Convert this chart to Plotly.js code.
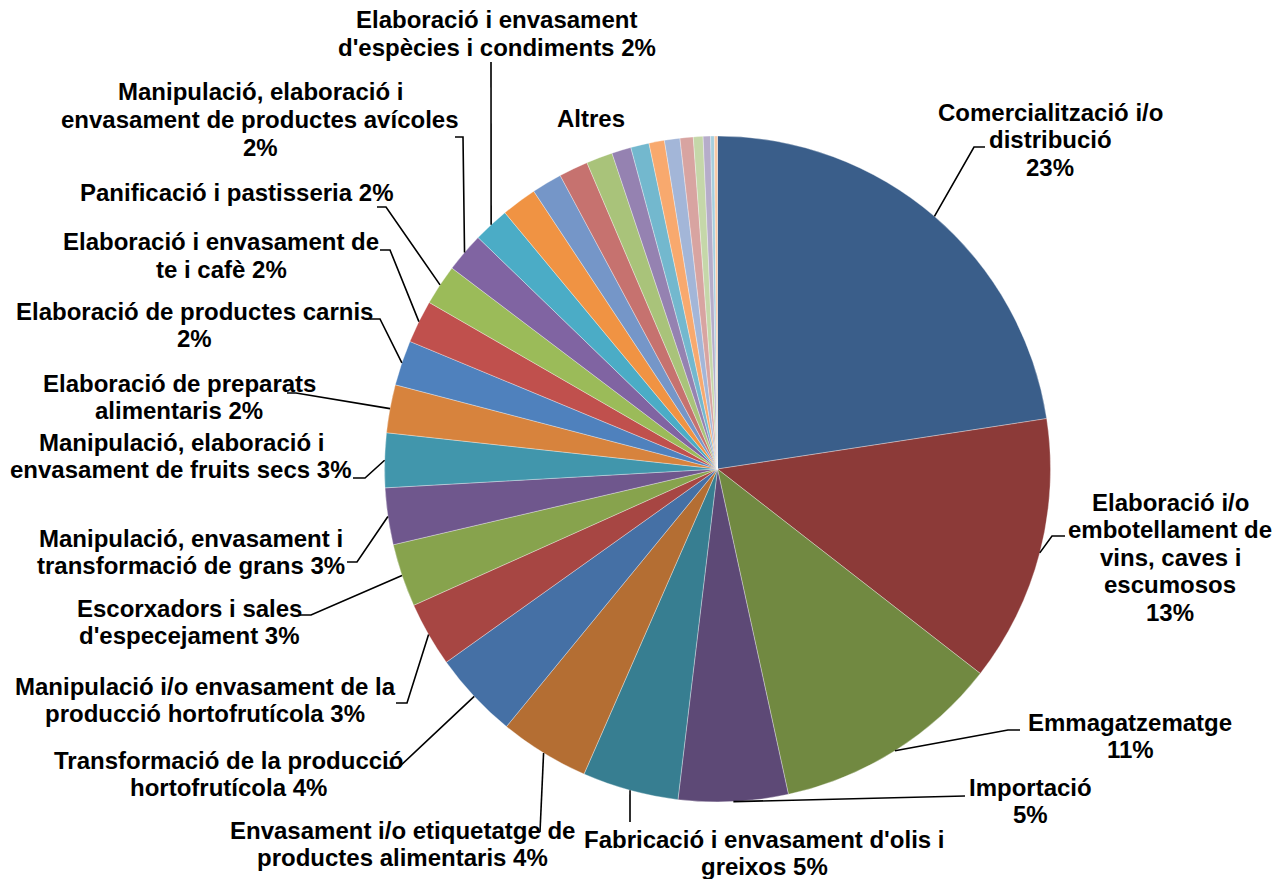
<!DOCTYPE html>
<html>
<head>
<meta charset="utf-8">
<script src="https://cdn.plot.ly/plotly-3.0.1.min.js"></script>
<style>
html,body{margin:0;padding:0;background:#ffffff;}
#chart{width:1273px;height:879px;}
</style>
</head>
<body>
<div id="chart"></div>
<script>
// ---------- DATA ----------
const categories = [
  "Comercialització i/o distribució",
  "Elaboració i/o embotellament de vins, caves i escumosos",
  "Emmagatzematge",
  "Importació",
  "Fabricació i envasament d'olis i greixos",
  "Envasament i/o etiquetatge de productes alimentaris",
  "Transformació de la producció hortofrutícola",
  "Manipulació i/o envasament de la producció hortofrutícola",
  "Escorxadors i sales d'especejament",
  "Manipulació, envasament i transformació de grans",
  "Manipulació, elaboració i envasament de fruits secs",
  "Elaboració de preparats alimentaris",
  "Elaboració de productes carnis",
  "Elaboració i envasament de te i cafè",
  "Panificació i pastisseria",
  "Manipulació, elaboració i envasament de productes avícoles",
  "Elaboració i envasament d'espècies i condiments",
  "Altres 1","Altres 2","Altres 3","Altres 4","Altres 5","Altres 6",
  "Altres 7","Altres 8","Altres 9","Altres 10","Altres 11","Altres 12","Altres 13"
];
const values = [
  22.58, 12.94, 11.06, 5.31, 4.67, 4.36, 4.22, 3.14, 3.06, 2.75,
  2.64, 2.33, 2.19, 2.08, 1.97, 1.92, 1.75,
  1.72, 1.47, 1.42, 1.28, 0.94, 0.89, 0.75, 0.75, 0.64, 0.47, 0.36, 0.18, 0.15
];
// label text lines for the labelled slices ({p} = percentage)
const labelLines = [
  ["Comercialització i/o","distribució","{p}"],
  ["Elaboració i/o","embotellament de","vins, caves i","escumosos","{p}"],
  ["Emmagatzematge","{p}"],
  ["Importació","{p}"],
  ["Fabricació i envasament d'olis i","greixos {p}"],
  ["Envasament i/o etiquetatge de","productes alimentaris {p}"],
  ["Transformació de la producció","hortofrutícola {p}"],
  ["Manipulació i/o envasament de la","producció hortofrutícola {p}"],
  ["Escorxadors i sales","d'especejament {p}"],
  ["Manipulació, envasament i","transformació de grans {p}"],
  ["Manipulació, elaboració i","envasament de fruits secs {p}"],
  ["Elaboració de preparats","alimentaris {p}"],
  ["Elaboració de productes carnis","{p}"],
  ["Elaboració i envasament de","te i cafè {p}"],
  ["Panificació i pastisseria {p}"],
  ["Manipulació, elaboració i","envasament de productes avícoles","{p}"],
  ["Elaboració i envasament","d'espècies i condiments {p}"]
];
const groupLabel = "Altres";

// ---------- STYLE / LAYOUT ----------
const colors = [
  "#3A5E8A","#8C3A38","#718941","#5D4976","#377E91","#B46E33",
  "#4570A5","#A74643","#87A34D","#6F578D","#4196AC","#D7833D",
  "#4F81BD","#C0504D","#9BBB59","#8064A2","#4BACC6","#F09343",
  "#7596C8","#C6726F","#A9C37A","#9582B1","#73B8CE","#F8A96E",
  "#A3B6D8","#D8A4A1","#C5D7A9","#B6ADCA","#A6CFDD","#F9C8A5"
];
const W = 1273, H = 879;
const CX = 717.5, CY = 469, R = 333;
const FONT = {family: "Liberation Sans, Arial, sans-serif", size: 24, color: "#000000"};
const LINE_H = 27.5;
// label placement in page pixels: text centre x, first line centre y, elbow, stub end
const placements = [
  {x:1050, y:112, elbow:[974,147],  stub:[985,147]},
  {x:1170, y:502, elbow:[1052,536], stub:[1065,536]},
  {x:1130, y:722, elbow:[1008,730], stub:[1020,730]},
  {x:1030, y:787, elbow:[965,796],  stub:[965,796]},
  {x:764,  y:839, elbow:[630,822],  stub:[630,822]},
  {x:402,  y:830, elbow:[540,832],  stub:[540,832]},
  {x:228,  y:760, elbow:[398,768],  stub:[386,768]},
  {x:205,  y:686, elbow:[407,703],  stub:[396,703]},
  {x:189,  y:608, elbow:[311,615],  stub:[300,615]},
  {x:191,  y:538, elbow:[357,562],  stub:[347,562]},
  {x:181,  y:442, elbow:[365,478],  stub:[353,478]},
  {x:179,  y:383, elbow:[296,393],  stub:[287,393]},
  {x:194,  y:311, elbow:[380,319],  stub:[370,319]},
  {x:221,  y:242, elbow:[390,250],  stub:[380,250]},
  {x:237,  y:193, elbow:[386,207],  stub:[377,207]},
  {x:260,  y:92,  elbow:[463,137],  stub:[455,137]},
  {x:497,  y:20,  elbow:[491,62],   stub:[491,62]}
];
const groupPlacement = {x:591, y:119};

const px2x = p => p / W;
const py2y = p => 1 - p / H;

const total = values.reduce((a,b)=>a+b,0);
let cum = 0;
const midAngles = values.map(v => { const m = (cum + v/2) / total * 2 * Math.PI; cum += v; return m; });

const annotations = [];
const shapes = [];
labelLines.forEach((lines, i) => {
  const pct = Math.round(values[i] / total * 100) + "%";
  const pl = placements[i];
  lines.forEach((ln, k) => {
    annotations.push({
      x: px2x(pl.x), y: py2y(pl.y + k * LINE_H), xref: "paper", yref: "paper",
      xanchor: "center", yanchor: "middle", showarrow: false,
      text: "<b>" + ln.replace("{p}", pct) + "</b>", font: FONT
    });
  });
  const a = midAngles[i];
  const rx = CX + R * Math.sin(a), ry = CY - R * Math.cos(a);
  const path = "M " + px2x(rx) + "," + py2y(ry) +
               " L " + px2x(pl.elbow[0]) + "," + py2y(pl.elbow[1]) +
               " L " + px2x(pl.stub[0]) + "," + py2y(pl.stub[1]);
  shapes.push({type: "path", xref: "paper", yref: "paper", path: path,
               line: {color: "#000000", width: 1.6}});
});
annotations.push({
  x: px2x(groupPlacement.x), y: py2y(groupPlacement.y), xref: "paper", yref: "paper",
  xanchor: "center", yanchor: "middle", showarrow: false,
  text: "<b>" + groupLabel + "</b>", font: FONT
});

const trace = {
  type: "pie",
  labels: categories,
  values: values,
  sort: false,
  direction: "clockwise",
  rotation: 0,
  textinfo: "none",
  hoverinfo: "label+percent",
  marker: {colors: colors, line: {color: "rgba(255,255,255,0.55)", width: 0.6}},
  domain: {x: [px2x(CX - R), px2x(CX + R)], y: [py2y(CY + R), py2y(CY - R)]},
  showlegend: false
};

const layout = {
  width: W, height: H,
  margin: {l:0, r:0, t:0, b:0},
  paper_bgcolor: "#ffffff",
  showlegend: false,
  annotations: annotations,
  shapes: shapes
};

Plotly.newPlot("chart", [trace], layout, {displayModeBar: false, staticPlot: true});
</script>
</body>
</html>
